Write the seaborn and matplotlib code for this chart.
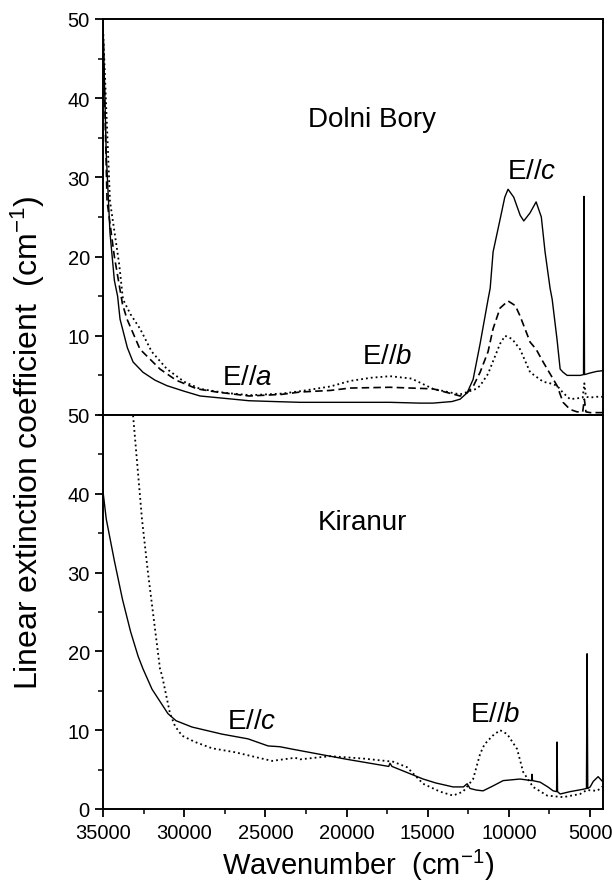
import numpy as np
import pandas as pd
import seaborn as sns
import matplotlib.pyplot as plt
from matplotlib.ticker import MultipleLocator

# Dolni Bory, E//c (solid)
db_c_x = [35000, 34800, 34570, 34300, 34100, 33950, 33500, 33150, 32540, 31800, 31060, 30000,
          29020, 27500, 26000, 24500, 22860, 21000, 19780, 17320, 15500, 14670, 13500, 13000,
          12570, 12200, 11770, 11280, 11150, 10970, 10540, 10250, 10050, 9700, 9300, 9080,
          8700, 8320, 8000, 7770, 7460, 7330, 7030, 6840, 6660, 6410, 6000, 5600, 5400, 5370,
          5340, 5000, 4600, 4200]
db_c_y = [49.5, 33, 23, 17, 15, 12.1, 8.5, 6.7, 5.4, 4.4, 3.7, 3.0,
          2.4, 2.1, 1.8, 1.7, 1.6, 1.6, 1.6, 1.6, 1.5, 1.5, 1.7, 2.0,
          2.8, 4.5, 9.0, 14.6, 16.0, 20.6, 24.7, 27.5, 28.5, 27.5, 25.2, 24.5,
          25.5, 26.9, 25.0, 20.6, 16.0, 14.6, 9.5, 5.8, 5.4, 5.0, 5.0, 5.0, 5.1, 27.6,
          5.1, 5.3, 5.5, 5.6]

# Dolni Bory, E//a (dashed)
db_a_x = [35000, 34750, 34300, 33800, 33520, 32720, 31490, 30500, 29210, 28000, 26000, 24000,
          22860, 21000, 19780, 17320, 16000, 14670, 13000, 12570, 12200, 11770, 11280, 10970,
          10540, 10050, 9600, 9310, 8690, 8320, 7890, 7460, 7030, 6660, 6230, 5800, 5450,
          5350, 5250, 5000, 4600, 4200]
db_a_y = [49, 27, 20, 14, 12.1, 8.3, 5.8, 4.4, 3.3, 2.9, 2.4, 2.6,
          2.9, 3.1, 3.4, 3.5, 3.4, 3.3, 2.4, 2.8, 3.6, 5.4, 8.0, 10.9,
          13.5, 14.4, 13.8, 12.5, 9.2, 8.3, 6.7, 5.2, 3.7, 1.6, 0.7, 0.4, 0.4,
          2.0, 0.4, 0.3, 0.3, 0.3]

# Dolni Bory, E//b (dotted)
db_b_x = [35000, 34570, 34000, 33770, 33300, 32720, 32000, 31060, 30000, 29020, 27500, 25940,
          24000, 22860, 21000, 19780, 18500, 17320, 16000, 14670, 13500, 13000, 12570, 12000,
          11770, 11280, 10970, 10540, 10230, 9800, 9310, 8690, 7890, 7460, 7030, 6660, 6230,
          5800, 5450, 5350, 5250, 5000, 4600, 4200]
db_b_y = [49, 27, 19, 14.6, 12.7, 10.9, 8.0, 5.8, 4.2, 3.3, 2.8, 2.5,
          2.7, 3.0, 3.6, 4.3, 4.7, 4.9, 4.6, 3.3, 2.8, 2.6, 2.9, 3.3,
          3.7, 5.2, 6.8, 9.0, 10.0, 9.6, 8.3, 5.4, 4.2, 4.0, 3.7, 2.8, 2.0,
          2.1, 2.2, 4.0, 2.3, 2.2, 2.3, 2.3]

# Kiranur, E//c (solid)
ki_c_x = [35000, 34800, 34300, 33800, 33300, 32840, 32540, 31980, 31000, 30500, 29520, 27670,
          26070, 24830, 24100, 23360, 22060, 19970, 17400, 17320, 17200, 15280, 14500, 13440,
          12800, 12570, 12450, 12390, 12000, 11590, 11000, 10350, 9310, 8600, 8570, 8540,
          8070, 7600, 7270, 7060, 7030, 7000, 6840, 6230, 5430, 5220, 5180, 5140, 4990, 4800,
          4500, 4190]
ki_c_y = [40.3, 36.8, 31.5, 26.6, 22.5, 19.4, 17.8, 15.2, 12.1, 11.2, 10.4, 9.5,
          8.9, 8.0, 7.9, 7.6, 7.1, 6.3, 5.4, 5.8, 5.4, 3.8, 3.3, 2.8,
          2.8, 3.2, 2.8, 2.6, 2.4, 2.3, 2.9, 3.6, 3.8, 3.6, 4.4, 3.6,
          3.4, 2.8, 2.3, 2.2, 8.5, 2.2, 1.9, 2.2, 2.5, 2.6, 19.7, 2.6, 2.8, 3.5,
          4.1, 3.4]

# Kiranur, E//b (dotted)
ki_b_x = [33400, 33150, 32600, 32230, 31490, 31360, 30870, 30560, 30130, 29330, 28280, 26870,
          25630, 24590, 23170, 22860, 21010, 18980, 17130, 16270, 15280, 14240, 13440, 12820,
          12200, 11770, 11500, 11000, 10540, 10100, 9490, 9120, 8510, 7640, 6660, 5610, 5200,
          4560, 4190]
ki_b_y = [56, 50, 36.8, 30, 17.8, 16.9, 12.1, 10.5, 9.3, 8.5, 7.7, 7.2,
          6.6, 6.1, 6.5, 6.3, 6.7, 6.4, 6.0, 5.3, 3.2, 2.2, 1.7, 2.2,
          3.8, 7.0, 8.2, 9.3, 10.0, 9.5, 7.6, 4.7, 2.8, 1.7, 1.5, 1.9, 2.4,
          2.3, 2.9]

x_ticks = [35000, 30000, 25000, 20000, 15000, 10000, 5000]

sns.set_style("ticks")
plt.rcParams['font.family'] = ['Liberation Sans', 'DejaVu Sans']
plt.rcParams['text.color'] = 'black'
plt.rcParams['mathtext.fontset'] = 'custom'
plt.rcParams['mathtext.rm'] = 'Liberation Sans'
plt.rcParams['mathtext.it'] = 'Liberation Sans:italic'

fig = plt.figure(figsize=(6.12, 8.95), dpi=100)
ax1 = fig.add_axes([0.1683, 0.5352, 0.817, 0.4425])
ax2 = fig.add_axes([0.1683, 0.0950, 0.817, 0.4402])

dotted = (0, (1.0, 1.7))
dashed = (0, (4.5, 2.5))

sns.lineplot(x=db_c_x, y=db_c_y, ax=ax1, color='black', linewidth=1.0)
sns.lineplot(x=db_a_x, y=db_a_y, ax=ax1, color='black', linewidth=1.2, linestyle=dashed)
sns.lineplot(x=db_b_x, y=db_b_y, ax=ax1, color='black', linewidth=1.3, linestyle=dotted)

sns.lineplot(x=ki_c_x, y=ki_c_y, ax=ax2, color='black', linewidth=1.0)
sns.lineplot(x=ki_b_x, y=ki_b_y, ax=ax2, color='black', linewidth=1.3, linestyle=dotted)

for ax in (ax1, ax2):
    ax.set_xlim(35000, 4200)
    ax.set_ylim(0, 50)
    ax.set_xticks(x_ticks)
    ax.xaxis.set_minor_locator(MultipleLocator(2500))
    ax.yaxis.set_minor_locator(MultipleLocator(5))
    ax.tick_params(which='major', direction='out', length=6, width=1.3, labelsize=14.5,
                   colors='black')
    ax.tick_params(which='minor', direction='out', length=3.5, width=1.1, colors='black')
    ax.tick_params(axis='x', pad=4)
    ax.set_xlabel('')
    ax.set_ylabel('')
    for sp in ax.spines.values():
        sp.set_visible(True)
        sp.set_linewidth(1.4)
        sp.set_color('black')

ax1.set_yticks([10, 20, 30, 40, 50])
ax1.tick_params(axis='x', labelbottom=False)
ax2.set_yticks([0, 10, 20, 30, 40, 50])

ax1.text(18400, 37.4, 'Dolni Bory', fontsize=20, ha='center', va='center')
ax1.text(8570, 30.8, r'E//$\mathit{c}$', fontsize=20, ha='center', va='center')
ax1.text(26130, 4.8, r'E//$\mathit{a}$', fontsize=20, ha='center', va='center')
ax1.text(17500, 7.4, r'E//$\mathit{b}$', fontsize=20, ha='center', va='center')

ax2.text(19040, 36.4, 'Kiranur', fontsize=20, ha='center', va='center')
ax2.text(25820, 11.2, r'E//$\mathit{c}$', fontsize=20, ha='center', va='center')
ax2.text(10850, 12.1, r'E//$\mathit{b}$', fontsize=20, ha='center', va='center')

fig.text(0.046, 0.505, r'Linear extinction coefficient  (cm$^{-1}$)', rotation=90,
         fontsize=23, ha='center', va='center')
fig.text(0.585, 0.033, r'Wavenumber  (cm$^{-1}$)', fontsize=21, ha='center', va='center')

fig.savefig('out.png', dpi=100)
